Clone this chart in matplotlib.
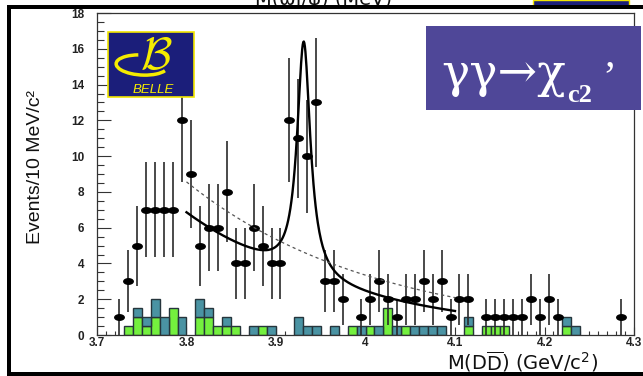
import numpy as np
import matplotlib.pyplot as plt
from matplotlib.patches import Rectangle, Arc
from matplotlib.path import Path
from matplotlib.ticker import MultipleLocator
from matplotlib import font_manager

W, H = 643, 376

# M(DD) spectrum, 10 MeV bins from 3.70 to 4.30 GeV
bin_lo = 3.70
bin_w = 0.01
counts = [0, 0, 1, 3, 5, 7, 7, 7, 7, 12,
          9, 5, 6, 6, 8, 4, 4, 6, 5, 4,
          4, 12, 11, 10, 13, 3, 3, 2, 0, 1,
          2, 3, 2, 1, 2, 2, 3, 2, 3, 1,
          2, 2, 0, 1, 1, 1, 1, 1, 2, 1,
          2, 1, 0, 0, 0, 0, 0, 0, 1, 0]

# sideband histograms (green at the bottom, teal stacked on it)
sb_green = [0, 0, 0, .5, 1, .5, 1, 0, 1.5, 0,
            0, 1, 1, .5, .5, .5, 0, 0, .5, 0,
            0, 0, 0, 0, 0, 0, 0, 0, .5, 0,
            .5, 0, 1.5, 0, .5, 0, 0, 0, 0, 0,
            0, .5, 0, .5, .5, .5, 0, 0, 0, 0,
            0, 0, .5, 0, 0, 0, 0, 0, 0, 0]
sb_teal = [0, 0, 0, 0, .5, .5, 1, 1, 0, 1,
           0, 1, .5, 0, .5, 0, 0, .5, 0, .5,
           0, 0, 1, .5, .5, 0, .5, 0, 0, .5,
           0, .5, 0, .5, 0, .5, .5, .5, .5, 0,
           0, .5, 0, 0, 0, 0, 0, 0, 0, 0,
           0, 0, .5, .5, 0, 0, 0, 0, 0, 0]

# fit: Breit-Wigner + exponential background, and background-only fit
peak_mass = 3.931
peak_gamma = 0.018
peak_amp = 13.1
bkg_norm = 6.8
bkg_slope = 5.5
nopeak_norm = 8.56
nopeak_slope = 4.7
fit_lo, fit_hi = 3.80, 4.10

xticks = [3.7, 3.8, 3.9, 4.0, 4.1, 4.2, 4.3]
xtick_labels = ['3.7', '3.8', '3.9', '4', '4.1', '4.2', '4.3']
yticks = [0, 2, 4, 6, 8, 10, 12, 14, 16, 18]

names = {f.name for f in font_manager.fontManager.ttflist}
narrow = 'Liberation Sans Narrow' if 'Liberation Sans Narrow' in names else 'Liberation Sans'


def fx(px):
    return px / W


def fy(py):
    return 1 - py / H


fig = plt.figure(figsize=(W / 100, H / 100), dpi=100)
fig.patch.set_facecolor('white')

ax = fig.add_axes([fx(97), fy(335), fx(634) - fx(97), fy(13) - fy(335)])
ax.set_facecolor('white')

n = len(counts)
lefts = bin_lo + bin_w * np.arange(n)
g = np.array(sb_green)
t = np.array(sb_teal)
c = np.array(counts, dtype=float)

mg = g > 0
ax.bar(lefts[mg], g[mg], width=bin_w, align='edge', color='#74F03E',
       edgecolor='#26353c', linewidth=1.0, zorder=2)
mt = t > 0
ax.bar(lefts[mt], t[mt], bottom=g[mt], width=bin_w, align='edge', color='#4A93A3',
       edgecolor='#26353c', linewidth=1.0, zorder=2)

# flattened ellipse marker for the data points
th = np.linspace(0, 2 * np.pi, 60)
dot = Path(np.column_stack([np.cos(th), 0.58 * np.sin(th)]), closed=True)

m = c > 0
xc = lefts[m] + bin_w / 2
ax.errorbar(xc, c[m], yerr=np.sqrt(c[m]), fmt='none', ecolor='#2a2a2a',
            elinewidth=1.2, zorder=4)
ax.plot(xc, c[m], ls='none', marker=dot, ms=6.8, color='black', zorder=5)

xf = np.linspace(fit_lo, fit_hi, 500)
half = peak_gamma / 2
bw = peak_amp * half ** 2 / ((xf - peak_mass) ** 2 + half ** 2)
ax.plot(xf, bkg_norm * np.exp(-bkg_slope * (xf - fit_lo)) + bw, color='black', lw=1.7, zorder=6)
ax.plot(xf, nopeak_norm * np.exp(-nopeak_slope * (xf - fit_lo)), color='#555555',
        lw=0.9, ls=(0, (2.5, 2.5)), zorder=6)

ax.set_xlim(3.7, 4.3)
ax.set_ylim(0, 18)
ax.set_xticks(xticks)
ax.set_xticklabels(xtick_labels)
ax.xaxis.set_minor_locator(MultipleLocator(0.01))
ax.set_yticks(yticks)
ax.yaxis.set_minor_locator(MultipleLocator(0.5))
ax.tick_params(which='both', direction='in', colors='#333333', width=0.8)
ax.tick_params(axis='y', which='major', length=10, pad=9)
ax.tick_params(axis='y', which='minor', length=5)
ax.tick_params(axis='x', which='major', length=6, pad=1.5)
ax.tick_params(axis='x', which='minor', length=3)
for lab in ax.get_xticklabels() + ax.get_yticklabels():
    lab.set_fontfamily('Liberation Sans')
    lab.set_fontweight('bold')
    lab.set_fontsize(8.5)
    lab.set_color('#222222')
for s in ax.spines.values():
    s.set_color('#333333')
    s.set_linewidth(0.9)

fig.text(fx(36), fy(167), 'Events/10 MeV/c²', rotation=90, ha='center', va='center',
         family=[narrow, 'DejaVu Sans'], fontsize=14, color='#111111')
fig.text(fx(447), fy(369.5), r'M(D$\overline{\mathrm{D}}$) (GeV/c$^2$)', ha='left', va='baseline',
         family='DejaVu Sans', fontsize=14, color='#111111')

# Belle logo
fig.add_artist(Rectangle((fx(108), fy(97)), fx(194) - fx(108), fy(32) - fy(97),
                         transform=fig.transFigure, facecolor='#1B1E7A',
                         edgecolor='#F2E600', linewidth=1.2, zorder=7))
fig.text(fx(156), fy(56), r'$\mathcal{B}$', math_fontfamily='cm', ha='center', va='center',
         fontsize=33, color='#F5EC00', zorder=8)
fig.add_artist(Arc((fx(142), fy(65)), fx(52), 20 / H, angle=-8, theta1=110, theta2=345,
                   transform=fig.transFigure, color='#F5EC00', lw=2.5, zorder=8))
fig.text(fx(153), fy(93), 'BELLE', ha='center', va='baseline', family='Liberation Sans',
         style='italic', fontsize=9.5, color='#F5EC00', zorder=8)

# process label box
fig.add_artist(Rectangle((fx(426), fy(110)), fx(641) - fx(426), fy(26) - fy(110),
                         transform=fig.transFigure, facecolor='#4F4798',
                         edgecolor='none', zorder=7))
serif = ['DejaVu Serif', 'Liberation Serif']
fig.text(fx(441), fy(88), 'γγ→χ', ha='left', va='baseline', family=serif,
         fontsize=34, color='white', zorder=8)
fig.text(fx(567), fy(101.5), 'c2', ha='left', va='baseline', family=['Liberation Serif'],
         fontweight='bold', fontsize=19, color='white', zorder=8)
fig.text(fx(602), fy(60), '’', ha='left', va='top', family=['Liberation Serif'],
         fontsize=30, color='white', zorder=8)

# slide frame and the cut-off header above it
fig.text(fx(324), fy(5), 'M(ωJ/ψ) (MeV)', ha='center', va='baseline',
         family='DejaVu Sans', fontsize=14, color='#111111')
fig.add_artist(Rectangle((fx(533), fy(6)), fx(629) - fx(533), 6 / H, transform=fig.transFigure,
                         facecolor='#1B1E7A', edgecolor='#F2E600', linewidth=1.0, zorder=9))
fig.add_artist(Rectangle((fx(7), fy(8.5)), 1, 3.5 / H, transform=fig.transFigure,
                         facecolor='black', edgecolor='none', zorder=10))
fig.add_artist(Rectangle((fx(7), 0), 4 / W, fy(5), transform=fig.transFigure,
                         facecolor='black', edgecolor='none', zorder=10))
fig.add_artist(Rectangle((fx(7), 0), 1, 4 / H, transform=fig.transFigure,
                         facecolor='black', edgecolor='none', zorder=10))

fig.savefig('out.png', dpi=100)
